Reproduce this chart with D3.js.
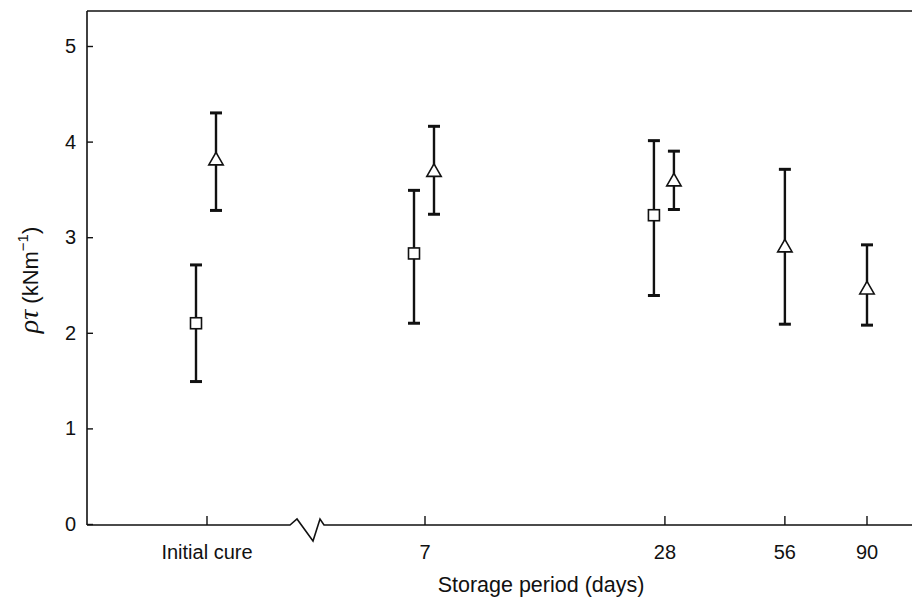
<!DOCTYPE html>
<html>
<head>
<meta charset="utf-8">
<script src="https://cdn.jsdelivr.net/npm/d3@7/dist/d3.min.js"></script>
<style>
  html, body { margin: 0; padding: 0; background: #fff; }
  svg { display: block; }
  text { font-family: "Liberation Sans", Arial, Helvetica, sans-serif; fill: #111; }
</style>
</head>
<body>
<svg id="chart" width="912" height="597"></svg>
<script>
// Storage groups: the initial cure plus storage periods in days (log axis)
const storageDays = [7, 28, 56, 90];
const yTicks = [0, 1, 2, 3, 4, 5];

// Squares: specimens tested at initial cure, 7 and 28 days
const squareGroup = ["initial", 7, 28];
const squareMean  = [2.10, 2.83, 3.23];
const squareLow   = [1.49, 2.10, 2.39];
const squareHigh  = [2.71, 3.49, 4.01];

// Triangles: all storage periods
const triangleGroup = ["initial", 7, 28, 56, 90];
const triangleMean  = [3.80, 3.68, 3.58, 2.89, 2.45];
const triangleLow   = [3.28, 3.24, 3.29, 2.09, 2.08];
const triangleHigh  = [4.30, 4.16, 3.90, 3.71, 2.92];

const svg = d3.select("#chart");
const plotLeft = 87, plotRight = 912, plotTop = 11, plotBottom = 524;

const y = d3.scaleLinear().domain([0, 5]).range([plotBottom, 46]);
const xDays = d3.scaleLog().domain([7, 90]).range([425, 867]);
const xInitial = d3.scalePoint().domain(["initial"]).range([207, 207]);
const xPos = g => g === "initial" ? xInitial(g) : xDays(g);

const ink = "#111";

// Frame: left axis and top border
svg.append("line").attr("x1", plotLeft).attr("x2", plotLeft).attr("y1", plotTop).attr("y2", plotBottom + 1)
  .attr("stroke", ink).attr("stroke-width", 1.6);
svg.append("line").attr("x1", plotLeft).attr("x2", plotRight).attr("y1", plotTop).attr("y2", plotTop)
  .attr("stroke", ink).attr("stroke-width", 1.4);

// Bottom axis with a break between the initial cure and the storage days
svg.append("path")
  .attr("d", `M${plotLeft},${plotBottom + 1}H290L297,519L313,541L320,519L324,${plotBottom + 1}H${plotRight}`)
  .attr("fill", "none").attr("stroke", ink).attr("stroke-width", 1.6);

// Y axis ticks pointing inward
const yAxis = d3.axisLeft(y).tickValues(yTicks).tickFormat(d3.format("d"))
  .tickSizeInner(-6).tickSizeOuter(0).tickPadding(11);
const gy = svg.append("g").attr("transform", `translate(${plotLeft},0)`).call(yAxis);
gy.select(".domain").remove();
gy.selectAll(".tick line").attr("stroke", ink).attr("stroke-width", 1.4);
gy.selectAll(".tick text").attr("font-size", 20).attr("fill", ink)
  .attr("font-family", "'Liberation Sans', Arial, sans-serif");

// X ticks and labels
const xCats = ["initial", ...storageDays];
const xLabels = ["Initial cure", ...storageDays.map(String)];
const gx = svg.append("g");
gx.selectAll("line.xt").data(xCats).join("line")
  .attr("x1", d => xPos(d)).attr("x2", d => xPos(d))
  .attr("y1", plotBottom + 1).attr("y2", plotBottom - 8)
  .attr("stroke", ink).attr("stroke-width", 1.4);
gx.selectAll("text.xl").data(xCats).join("text")
  .attr("x", d => xPos(d)).attr("y", 559)
  .attr("text-anchor", "middle").attr("font-size", 20)
  .text((d, i) => xLabels[i]);

// Axis titles
svg.append("text").attr("x", 541).attr("y", 592).attr("text-anchor", "middle")
  .attr("font-size", 21.5).text("Storage period (days)");

const yl = svg.append("text").attr("transform", "translate(38,280) rotate(-90)")
  .attr("text-anchor", "middle").attr("font-size", 22);
yl.append("tspan").attr("font-style", "italic").attr("font-size", 28)
  .attr("font-family", "'Liberation Serif', 'DejaVu Serif', serif").text("ρτ");
yl.append("tspan").text(" (kNm");
yl.append("tspan").attr("dy", -10).attr("font-size", 15).text("−1");
yl.append("tspan").attr("dy", 10).text(")");

// Error bars with caps
function errorBars(groups, low, high, dodge) {
  const g = svg.append("g").attr("stroke", ink);
  groups.forEach((grp, i) => {
    const cx = xPos(grp) + dodge;
    g.append("line").attr("x1", cx).attr("x2", cx).attr("y1", y(low[i])).attr("y2", y(high[i]))
      .attr("stroke-width", 2.4);
    [low[i], high[i]].forEach(v => {
      g.append("line").attr("x1", cx - 6).attr("x2", cx + 6).attr("y1", y(v)).attr("y2", y(v))
        .attr("stroke-width", 3);
    });
  });
}

const squareDodge = -11, triangleDodge = 9;
errorBars(squareGroup, squareLow, squareHigh, squareDodge);
errorBars(triangleGroup.slice(0, 3), triangleLow.slice(0, 3), triangleHigh.slice(0, 3), triangleDodge);
errorBars(triangleGroup.slice(3), triangleLow.slice(3), triangleHigh.slice(3), 0);

// Square markers
svg.append("g").selectAll("rect").data(squareGroup).join("rect")
  .attr("x", (d, i) => xPos(d) + squareDodge - 5.5)
  .attr("y", (d, i) => y(squareMean[i]) - 5.5)
  .attr("width", 11).attr("height", 11)
  .attr("fill", "#fff").attr("stroke", ink).attr("stroke-width", 1.6);

// Triangle markers
const tri = d3.symbol().type(d3.symbolTriangle).size(90);
svg.append("g").selectAll("path").data(triangleGroup).join("path")
  .attr("transform", (d, i) => `translate(${xPos(d) + (i < 3 ? triangleDodge : 0)},${y(triangleMean[i])})`)
  .attr("d", tri)
  .attr("fill", "#fff").attr("stroke", ink).attr("stroke-width", 1.6);
</script>
</body>
</html>
